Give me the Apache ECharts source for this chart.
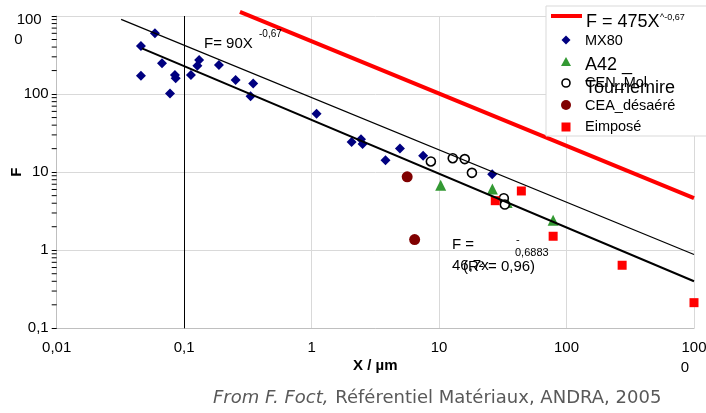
<!DOCTYPE html>
<html><head><meta charset="utf-8">
<script src="https://cdn.jsdelivr.net/npm/echarts@6/dist/echarts.min.js"></script>
<style>html,body{margin:0;padding:0;background:#fff}#c{width:706px;height:413px}</style>
</head><body><div id="c"></div>
<script>
// ---- data ----
const xTickValues = [0.01, 0.1, 1, 10, 100, 1000];
const xTickLabels = ['0,01', '0,1', '1', '10', '100', '{a|100}\n{b|0}'];
const yTickValues = [0.1, 1, 10, 100, 1000];
const yTickLabels = ['0,1', '1', '10', '100', '{e|}\n{a|100}\n{b|0}'];
const yMinorTicks = [0.2,0.3,0.4,0.5,0.6,0.7,0.8,0.9,2,3,4,5,6,7,8,9,20,30,40,50,60,70,80,90,200,300,400,500,600,700,800,900];

const mx80 = [[0.059,600],[0.0458,412],[0.067,248],[0.0458,172],[0.0847,175],[0.0858,159],[0.0774,102],
  [0.113,175],[0.127,231],[0.131,273],[0.1875,236],[0.2535,151],[0.348,137],[0.332,94],[1.094,56],
  [2.06,24.4],[2.44,26.3],[2.51,22.9],[3.8,14.2],[4.93,20.1],[7.5,16.2],[26.1,9.4]];
const a42 = [[10.3,6.8],[26.2,6.1],[34.2,4.09],[78.5,2.42]];
const cenMol = [[8.62,13.7],[12.8,15.1],[15.9,14.7],[18.1,9.8],[32.2,4.64],[32.8,3.85]];
const ceaDes = [[5.62,8.7],[6.43,1.37]];
const eimpose = [[44.2,5.74],[27.6,4.31],[78.5,1.51],[273,0.642],[1000,0.213]];
const line475 = [[0.274,1130],[1000,4.64]];
const line90 = [[0.032,905],[1000,0.88]];
const fit467 = [[0.0467,385],[1000,0.40]];
const refLineX = 0.1;

const FONT = 'Liberation Sans, Arial, sans-serif';
function pick(vals, labels, v){
  for (let i=0;i<vals.length;i++) if (Math.abs(Math.log10(v)-Math.log10(vals[i]))<1e-6) return labels[i];
  return '';
}
const chart = echarts.init(document.getElementById('c'), null, {renderer:'canvas'});
const richBase = {fontSize:15, fontFamily:FONT, color:'#000', lineHeight:20};
const opt = {
  animation:false,
  backgroundColor:'#fff',
  textStyle:{fontFamily:FONT},
  grid:{left:56.7, right:12, top:16, bottom:84.7, containLabel:false, outerBoundsMode:'none'},
  xAxis:{type:'log', logBase:10, min:0.01, max:1000,
    name:'X / µm', nameLocation:'middle', nameGap:30, nameMoveOverlap:false,
    nameTextStyle:{fontSize:15, fontWeight:'bold', color:'#000', fontFamily:FONT},
    axisLine:{show:true, onZero:false, lineStyle:{color:'#bfbfbf', width:1}},
    axisTick:{show:false},
    axisLabel:{fontSize:15, color:'#000', margin:10, lineHeight:20, fontFamily:FONT,
      formatter:v=>pick(xTickValues,xTickLabels,v),
      rich:{a:Object.assign({},richBase), b:Object.assign({padding:[0,18,0,0]},richBase)}},
    splitLine:{show:true, lineStyle:{color:'#d9d9d9', width:1}}
  },
  yAxis:{type:'log', logBase:10, min:0.1, max:1000,
    name:'F', nameLocation:'middle', nameGap:32, nameRotate:90, nameMoveOverlap:false,
    nameTextStyle:{fontSize:15, fontWeight:'bold', color:'#000', fontFamily:FONT},
    axisLine:{show:true, onZero:false, lineStyle:{color:'#bfbfbf', width:1}},
    axisTick:{show:true, length:5, lineStyle:{color:'#000'}},
    axisLabel:{fontSize:15, color:'#000', margin:8, lineHeight:20, fontFamily:FONT,
      formatter:v=>pick(yTickValues,yTickLabels,v),
      rich:{e:Object.assign({},richBase,{lineHeight:28}), a:Object.assign({padding:[0,7,0,0]},richBase), b:Object.assign({padding:[0,26,0,0]},richBase)}},
    splitLine:{show:true, lineStyle:{color:'#d9d9d9', width:1}}
  },
  series:[
    {type:'custom', name:'minorTicks', silent:true, clip:false, data:yMinorTicks.map(v=>[v]),
      renderItem:(params, api)=>{
        const p = api.coord([0.01, api.value(0)]);
        return {type:'line', shape:{x1:p[0]-5, y1:p[1], x2:p[0], y2:p[1]}, style:{stroke:'#000', lineWidth:1}};
      }, encode:{y:0}},
    {type:'scatter', name:'MX80', data:mx80, symbol:'diamond', symbolSize:10, clip:false,
      itemStyle:{color:'#000080', opacity:1},
      markLine:{silent:true, symbol:'none', label:{show:false}, animation:false,
        lineStyle:{color:'#000', width:1, type:'solid'}, data:[{xAxis:refLineX}]}},
    {type:'line', name:'F=90X', data:line90, showSymbol:false, symbol:'none', clip:false,
      lineStyle:{color:'#000', width:1.2}},
    {type:'line', name:'fit', data:fit467, showSymbol:false, symbol:'none', clip:false,
      lineStyle:{color:'#000', width:2}},
    {type:'line', name:'F = 475X', data:line475, showSymbol:false, symbol:'none', clip:false,
      lineStyle:{color:'#ff0000', width:4}},
    {type:'scatter', name:'A42 _ Tournemire', data:a42, symbol:'triangle', symbolSize:11, clip:false,
      itemStyle:{color:'#339933', opacity:1}},
    {type:'scatter', name:'CEN_Mol', data:cenMol, symbol:'circle', symbolSize:9, clip:false,
      itemStyle:{color:'#fff', borderColor:'#000', borderWidth:1.6, opacity:1}},
    {type:'scatter', name:'CEA_désaéré', data:ceaDes, symbol:'circle', symbolSize:11, clip:false,
      itemStyle:{color:'#800000', opacity:1}},
    {type:'scatter', name:'Eimposé', data:eimpose, symbol:'rect', symbolSize:9, clip:false,
      itemStyle:{color:'#ff0000', opacity:1}}
  ],
  graphic:[
    // annotations
    {type:'text', z:50, style:{text:'F= 90X', x:204, y:44, fontSize:15, fontFamily:FONT, fill:'#000', verticalAlign:'middle'}},
    {type:'text', z:50, style:{text:'-0,67', x:259, y:34, fontSize:10, fontFamily:FONT, fill:'#000', verticalAlign:'middle'}},
    {type:'text', z:50, style:{text:'F =', x:452, y:245, fontSize:15, fontFamily:FONT, fill:'#000', verticalAlign:'middle'}},
    {type:'text', z:50, style:{text:'46,7x', x:452, y:266, fontSize:15, fontFamily:FONT, fill:'#000', verticalAlign:'middle'}},
    {type:'text', z:50, style:{text:'(R² = 0,96)', x:463, y:267, fontSize:15, fontFamily:FONT, fill:'#000', verticalAlign:'middle'}},
    {type:'text', z:50, style:{text:'-', x:516, y:240, fontSize:11, fontFamily:FONT, fill:'#000', verticalAlign:'middle'}},
    {type:'text', z:50, style:{text:'0,6883', x:515, y:253, fontSize:11, fontFamily:FONT, fill:'#000', verticalAlign:'middle'}},
    // legend
    {type:'rect', z:60, shape:{x:546, y:6, width:170, height:130}, style:{fill:'#fff', stroke:'#d9d9d9', lineWidth:1}},
    {type:'line', z:61, shape:{x1:551, y1:16, x2:582, y2:16}, style:{stroke:'#ff0000', lineWidth:4}},
    {type:'text', z:61, style:{text:'F = 475X', x:586, y:22, fontSize:18, fontFamily:FONT, fill:'#000', verticalAlign:'middle'}},
    {type:'text', z:61, style:{text:'^-0,67', x:660, y:18, fontSize:9, fontFamily:FONT, fill:'#000', verticalAlign:'middle'}},
    {type:'polygon', z:61, shape:{points:[[566,35.5],[570.5,40],[566,44.5],[561.5,40]]}, style:{fill:'#000080'}},
    {type:'text', z:61, style:{text:'MX80', x:585, y:41, fontSize:14.5, fontFamily:FONT, fill:'#000', verticalAlign:'middle'}},
    {type:'polygon', z:61, shape:{points:[[566,57],[571,66],[561,66]]}, style:{fill:'#339933'}},
    {type:'text', z:61, style:{text:'A42 _', x:585, y:65, fontSize:18, fontFamily:FONT, fill:'#000', verticalAlign:'middle'}},
    {type:'circle', z:61, shape:{cx:566, cy:83, r:4}, style:{fill:'#fff', stroke:'#000', lineWidth:1.6}},
    {type:'text', z:61, style:{text:'CEN_Mol', x:585, y:83, fontSize:14.5, fontFamily:FONT, fill:'#000', verticalAlign:'middle'}},
    {type:'text', z:61, style:{text:'Tournemire', x:585, y:88, fontSize:18, fontFamily:FONT, fill:'#000', verticalAlign:'middle'}},
    {type:'circle', z:61, shape:{cx:566, cy:105, r:5}, style:{fill:'#800000'}},
    {type:'text', z:61, style:{text:'CEA_désaéré', x:585, y:106, fontSize:14.5, fontFamily:FONT, fill:'#000', verticalAlign:'middle'}},
    {type:'rect', z:61, shape:{x:561.5, y:122.5, width:9, height:9}, style:{fill:'#ff0000'}},
    {type:'text', z:61, style:{text:'Eimposé', x:585, y:127, fontSize:14.5, fontFamily:FONT, fill:'#000', verticalAlign:'middle'}},
    // source caption
    {type:'text', z:61, style:{text:'{i|From F. Foct,}  {n|Référentiel Matériaux, ANDRA, 2005}', x:213, y:398, verticalAlign:'middle',
      rich:{i:{fontSize:18, fontStyle:'italic', fontFamily:'DejaVu Sans', fill:'#595959'},
            n:{fontSize:18, fontFamily:'DejaVu Sans', fill:'#595959'}}}}
  ]
};
chart.setOption(opt);
</script></body></html>
